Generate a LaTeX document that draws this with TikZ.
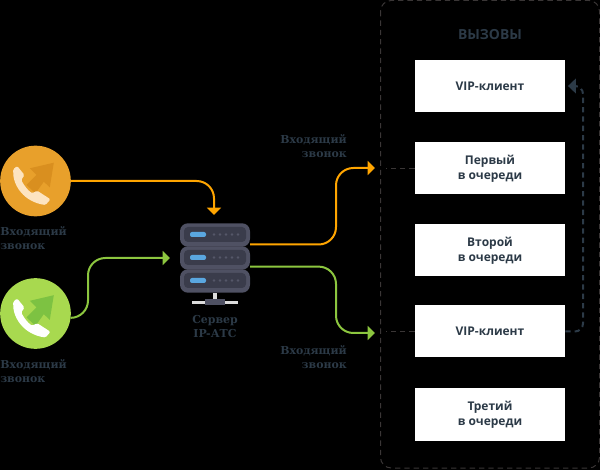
\documentclass[tikz,border=0pt]{standalone}
\usepackage{fontspec}
\setmainfont{Open Sans}
\newfontfamily\slabfont{DejaVu Serif}
\usetikzlibrary{arrows.meta}
\definecolor{inkdark}{HTML}{2C3A47}
\definecolor{framegrey}{HTML}{3A3636}
\definecolor{lineorange}{HTML}{FFA500}
\definecolor{linegreen}{HTML}{8CC63F}
\definecolor{callorange}{HTML}{E8A02B}
\definecolor{callgreen}{HTML}{A8D94F}
\definecolor{arroworange}{HTML}{D98F1F}
\definecolor{arrowgreen}{HTML}{7DC242}
\definecolor{phonecream}{HTML}{FDE4C0}
\definecolor{srvlight}{HTML}{4F5163}
\definecolor{srvdark}{HTML}{3A3C4B}
\definecolor{srvdot}{HTML}{555769}
\definecolor{srvled}{HTML}{5AA7E0}
\definecolor{srvstand}{HTML}{DCDCDC}
\tikzset{
  box/.style = {rectangle, fill=white, text=inkdark, font=\bfseries\fontsize{9}{11.25}\selectfont,
    align=center, minimum width=112.5pt, minimum height=39pt, inner sep=0pt},
  caption/.style = {text=inkdark, font=\slabfont\bfseries\fontsize{8.2}{10.6}\selectfont, inner sep=0pt},
  callcircle/.style = {circle, minimum size=53pt, inner sep=0pt},
  serverunit/.style = {rectangle, rounded corners=6pt, fill=srvlight, minimum width=52.5pt, minimum height=17.6pt, inner sep=0pt},
  calledge/.style = {draw=#1, line width=1.5pt, rounded corners=13pt,
    -{Triangle[length=5.5pt,width=10.5pt]}},
  calldash/.style = {draw=framegrey, line width=1pt, dash pattern=on 4pt off 3pt},
  pics/callicon/.style 2 args = {code={
    \fill[#1] (18.3,-18.3) -- (-5.7,-12.7) -- (1,-6) -- (-9,4) -- (0,12.3) -- (8.3,.7) -- (14.3,6.3) -- cycle;
    \fill[#2, rounded corners=1pt] (-18.3,-15) -- (-11,-6) -- (-14.3,-1)
      .. controls (-11,5) and (-8,9) .. (-3.3,12.3) -- (1.7,9.7) -- (15,18.3) -- (10,24)
      .. controls (-11,21) and (-23,5) .. (-22.3,-11.7) -- cycle;
  }}
}
\begin{document}
\begin{tikzpicture}[x=0.75pt, y=-0.75pt]
\fill[black] (0,0) rectangle (600,470);

% left side
\node [callcircle, fill=callorange] (callA) at (35.5,181) {};
\node [callcircle, fill=callgreen] (callB) at (35.5,313.5) {};
\pic at (callA) {callicon={arroworange}{phonecream}};
\pic at (callB) {callicon={arrowgreen}{white}};
\node [caption, anchor=west, align=left] (textA) at (0,238) {Входящий\\звонок};
\node [caption, anchor=west, align=left] (textB) at (0,371.5) {Входящий\\звонок};

% server
\foreach \name/\ypos in {srvA/235, srvB/258, srvC/281} {
  \node [serverunit] (\name) at (215,\ypos) {};
  \fill[srvdark, rounded corners=3pt] (184,\ypos-8) rectangle (246,\ypos+7);
  \fill[srvled, rounded corners=1.5pt] (190,\ypos-3) rectangle (206,\ypos+2);
  \foreach \xpos in {214,220,226,232,238}
    \fill[srvdot] (\xpos,\ypos-.5) circle (1.3);
}
\fill[srvstand] (213,293) rectangle (217,299);
\fill[srvstand] (192,301.5) rectangle (238,304.5);
\fill[srvlight] (205,299) rectangle (225,305);
\node [caption, font=\slabfont\bfseries\fontsize{8.2}{10.2}\selectfont, align=center] (srvtext) at (215,326.5) {Сервер\\IP-АТС};

% calls frame
\draw[framegrey, line width=.75pt, dash pattern=on 4pt off 3pt, rounded corners=8pt] (380.5,.5) rectangle (599.5,468);
\node [text=inkdark, font=\bfseries\fontsize{10.4}{12}\selectfont] (title) at (490,35) {ВЫЗОВЫ};
\node [box] (boxA) at (490,86) {VIP-клиент};
\node [box] (boxB) at (490,168.5) {Первый\\в очереди};
\node [box] (boxC) at (490,250.5) {Второй\\в очереди};
\node [box] (boxD) at (490,331.5) {VIP-клиент};
\node [box] (boxE) at (490,414.5) {Третий\\в очереди};
\node [caption, anchor=east, align=right] (textC) at (347,146) {Входящий\\звонок};
\node [caption, anchor=east, align=right] (textD) at (347,357) {Входящий\\звонок};

% connectors
\coordinate (inA) at (214,215);
\coordinate (bendB) at (88,258);
\coordinate (inB) at (170,258);
\coordinate (outC) at (250,244.5);
\coordinate (bendC) at (336,168);
\coordinate (inC) at (375,168);
\coordinate (outD) at (250,266.6);
\coordinate (bendD) at (336,333);
\coordinate (inD) at (375,333);
\coordinate (gapB) at (386,168.5);
\coordinate (gapD) at (386,331.5);
\coordinate (backD) at (583,331.5);
\coordinate (backA) at (583,86);

\draw [calledge=lineorange] (callA.east) -| (inA);
\draw [calledge=linegreen] (callB.-7) -| (bendB) -- (inB);
\draw [calledge=lineorange] (outC) -| (bendC) -- (inC);
\draw [calledge=linegreen] (outD) -| (bendD) -- (inD);
\draw [calldash] (boxB.west) -- (gapB);
\draw [calldash] (boxD.west) -- (gapD);
\draw [draw=inkdark, line width=1.5pt, dash pattern=on 4pt off 3pt, rounded corners=6pt,
  -{Triangle[length=6pt,width=11pt]}, shorten >=2pt] (boxD.east) -- (backD) -- (backA) -- (boxA.east);
\end{tikzpicture}
\end{document}
